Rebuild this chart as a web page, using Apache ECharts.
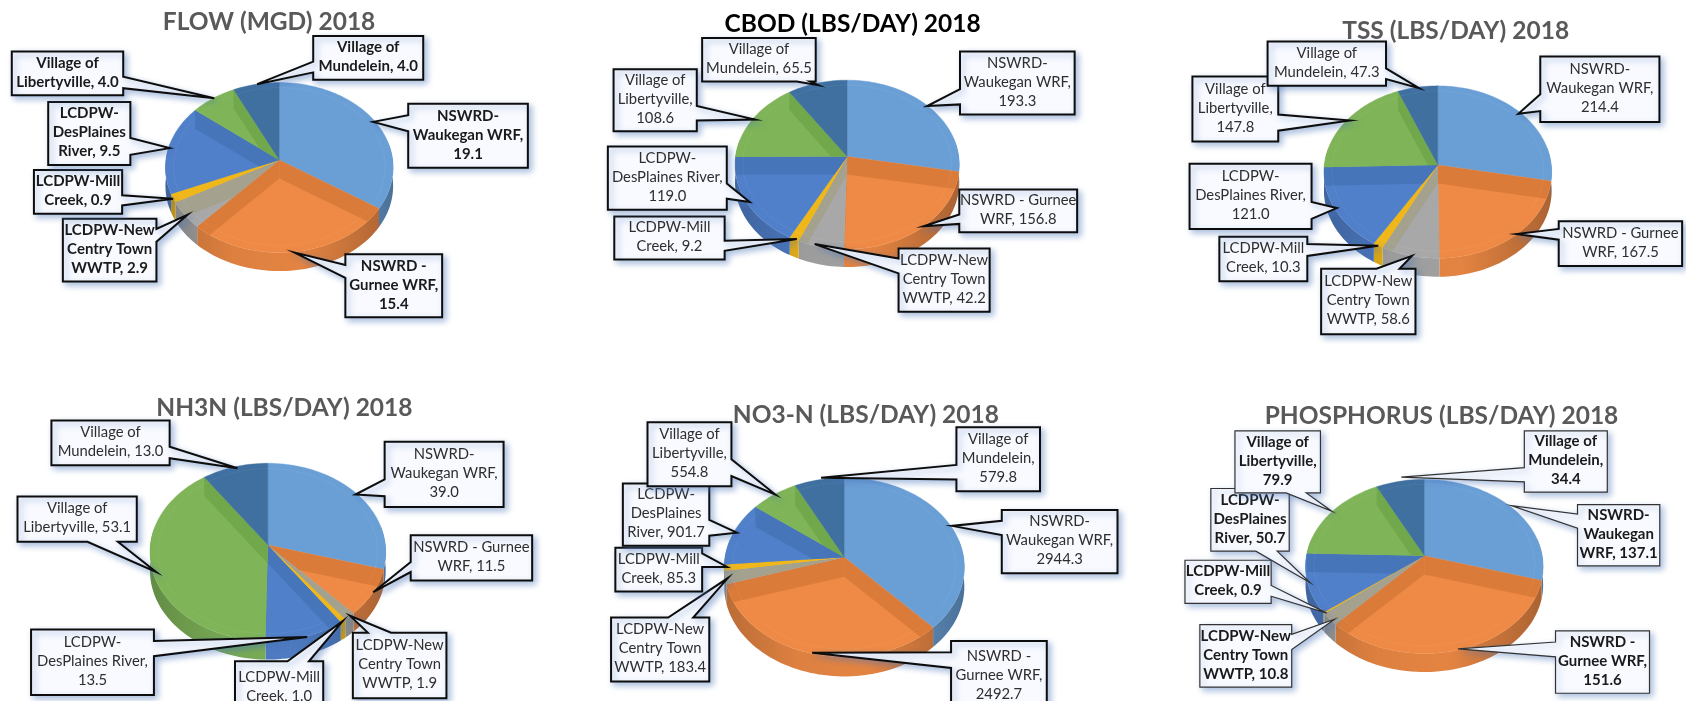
<!DOCTYPE html>
<html><head><meta charset="utf-8">
<style>html,body{margin:0;padding:0;background:#fff}#c{width:1686px;height:701px}</style>
<script src="https://cdn.jsdelivr.net/npm/echarts@6/dist/echarts.min.js"></script>
</head><body><div id="c"></div>
<script>
const sliceNames=['NSWRD-Waukegan WRF','NSWRD - Gurnee WRF','LCDPW-New Centry Town WWTP','LCDPW-Mill Creek','LCDPW-DesPlaines River','Village of Libertyville','Village of Mundelein'];
const flowValues=[19.1,15.4,2.9,0.9,9.5,4.0,4.0];
const cbodValues=[193.3,156.8,42.2,9.2,119.0,108.6,65.5];
const tssValues=[214.4,167.5,58.6,10.3,121.0,147.8,47.3];
const nh3nValues=[39.0,11.5,1.9,1.0,13.5,53.1,13.0];
const no3nValues=[2944.3,2492.7,183.4,85.3,901.7,554.8,579.8];
const phosValues=[137.1,151.6,10.8,0.9,50.7,79.9,34.4];
const sliceColors=['#6a9fd6','#ee8a45','#a8a8a8','#efb71a','#5180ca','#7fb458','#3f709f'];
const wallColors=['#6193c8','#db7b39','#a5a18f','#efb71a','#4675ba','#70a84b','#3f709f'];

// Layout in panel units (sc / SY units per page pixel from the panel origin ox,oy)
const SY=2.97;
const panels=[
 {title:'FLOW (MGD) 2018',vals:flowValues,color:'#595959',bold:true,lw:2,tx:752,ty:62,ox:0,oy:0,sc:2.8,ax:782,ay:475,R:317.5,top:245,sil:805,d:55,
  wraps:['NSWRD-\nWaukegan WRF,\n','NSWRD -\nGurnee WRF,\n','LCDPW-New\nCentry Town\nWWTP, ','LCDPW-Mill\nCreek, ','LCDPW-\nDesPlaines\nRiver, ','Village of\nLibertyville, ','Village of\nMundelein, '],
  boxes:[[1143,308,1478,498,'L',342,390,1045,362],[967,755,1238,942,'L',787,825,825,750],[176,650,438,836,'R',680,718,525,638],[95,505,342,635,'R',580,610,485,590],[135,303,365,490,'R',410,460,475,440],[33,153,345,283,'R',228,262,600,292],[877,107,1185,237,'L',183,215,720,250]]},
 {title:'CBOD (LBS/DAY) 2018',vals:cbodValues,color:'#000000',bold:false,lw:2,tx:790,ty:68,ox:570,oy:0,sc:2.8,ax:776,ay:465,R:312.5,top:238,sil:793,d:53,
  wraps:['NSWRD-\nWaukegan WRF,\n','NSWRD - Gurnee\nWRF, ','LCDPW-New\nCentry Town\nWWTP, ','LCDPW-Mill\nCreek, ','LCDPW-\nDesPlaines River,\n','Village of\nLibertyville,\n','Village of\nMundelein, '],
  boxes:[[1092,153,1413,340,'L',265,310,1000,315],[1090,563,1420,690,'L',637,665,990,672],[920,738,1175,926,'L',768,812,685,725],[124,643,433,771,'R',715,745,635,710],[106,435,439,623,'R',545,590,503,600],[122,206,355,390,'R',315,358,518,355],[370,113,688,242,'B',635,672,695,253]]},
 {title:'TSS (LBS/DAY) 2018',vals:tssValues,color:'#595959',bold:false,lw:2,tx:917,ty:90,ox:1130,oy:0,sc:2.82,ax:868,ay:490,R:320,top:255,sil:822,d:55,
  wraps:['NSWRD-\nWaukegan WRF,\n','NSWRD - Gurnee\nWRF, ','LCDPW-New\nCentry Town\nWWTP, ','LCDPW-Mill\nCreek, ','LCDPW-\nDesPlaines River,\n','Village of\nLibertyville,\n','Village of\nMundelein, '],
  boxes:[[1157,168,1493,362,'L',280,330,1095,338],[1209,657,1557,790,'L',680,712,1090,695],[539,798,805,993,'T',695,760,795,760],[252,703,500,835,'R',725,760,700,730],[168,486,512,680,'R',600,650,583,618],[176,227,418,420,'R',340,388,620,358],[388,123,722,255,'R',203,235,815,262]]},
 {title:'NH3N (LBS/DAY) 2018',vals:nh3nValues,color:'#595959',bold:false,lw:2,tx:795,ty:110,ox:0,oy:370,sc:2.8,ax:750,ay:520,R:329,top:277,sil:860,d:55,
  wraps:['NSWRD-\nWaukegan WRF,\n','NSWRD - Gurnee\nWRF, ','LCDPW-New\nCentry Town\nWWTP, ','LCDPW-Mill\nCreek, ','LCDPW-\nDesPlaines River,\n','Village of\nLibertyville, ','Village of\nMundelein, '],
  boxes:[[1077,213,1410,407,'L',325,375,995,370],[1150,491,1490,625,'L',570,600,1045,660],[988,780,1250,975,'T',1030,1095,980,730],[658,865,905,1020,'T',805,865,960,745],[87,771,431,965,'R',805,850,860,793],[49,376,383,510,'B',245,330,437,600],[144,150,475,283,'R',228,262,665,292]]},
 {title:'NO3-N (LBS/DAY) 2018',vals:no3nValues,color:'#595959',bold:false,lw:2,tx:827,ty:132,ox:570,oy:370,sc:2.8,ax:768,ay:556,R:334,top:320,sil:910,d:58,
  wraps:['NSWRD-\nWaukegan WRF,\n','NSWRD -\nGurnee WRF,\n','LCDPW-New\nCentry Town\nWWTP, ','LCDPW-Mill\nCreek, ','LCDPW-\nDesPlaines\nRiver, ','Village of\nLibertyville,\n','Village of\nMundelein,\n'],
  boxes:[[1209,416,1533,604,'L',448,490,1070,463],[1067,805,1335,1015,'L',838,885,678,840],[115,735,390,925,'T',275,345,442,618],[127,528,370,658,'R',545,585,440,585],[148,337,390,522,'R',445,492,467,483],[217,155,452,345,'R',265,315,575,370],[1082,170,1316,360,'L',282,325,703,320]]},
 {title:'PHOSPHORUS (LBS/DAY) 2018',vals:phosValues,color:'#595959',bold:true,lw:1.2,tx:877,ty:135,ox:1130,oy:370,sc:2.82,ax:830,ay:552,R:332.5,top:325,sil:897,d:55,
  wraps:['NSWRD-\nWaukegan\nWRF, ','NSWRD -\nGurnee WRF,\n','LCDPW-New\nCentry Town\nWWTP, ','LCDPW-Mill\nCreek, ','LCDPW-\nDesPlaines\nRiver, ','Village of\nLibertyville,\n','Village of\nMundelein,\n'],
  boxes:[[1262,400,1494,582,'L',428,470,1075,403],[1200,775,1465,960,'L',808,852,925,828],[197,756,456,942,'R',785,830,577,740],[155,565,398,693,'R',640,672,555,722],[228,352,449,538,'B',355,415,508,632],[296,181,537,365,'B',440,497,570,420],[1112,181,1346,363,'L',290,332,765,318]]}
];
const labelFont='"Lato","Open Sans",sans-serif';
const RAD=Math.PI/180;
function shade(h,f){const n=parseInt(h.slice(1),16);const c=s=>Math.max(0,Math.min(255,Math.round(((n>>s)&255)*f)));return 'rgb('+c(16)+','+c(8)+','+c(0)+')';}

function pieSeries(p){
  const X=v=>p.ox+v/p.sc, Y=v=>p.oy+v/SY;
  const ax=X(p.ax), ay=Y(p.ay), R=p.R/p.sc, d=p.d/SY;
  const back=(p.ay-p.top)/SY, fr=(p.sil-p.d-p.ay)/SY;
  const k=(fr-back)/(fr+back), S=back*(1+k);
  const rim=(t,dy,r)=>{r=r===undefined?1:r;const s=Math.sin(t*RAD),c=Math.cos(t*RAD),w=1+k*r*c;
    return [ax+R*r*s/w, ay-S*r*c/w+(dy||0)];};
  const total=p.vals.reduce((a,b)=>a+b,0);
  let acc=0; const starts=p.vals.map(v=>{const a=acc;acc+=v;return a/total*360;});
  return {type:'custom',coordinateSystem:'none',z:10,silent:true,name:p.title,
    data:p.vals.map((v,i)=>({name:sliceNames[i],value:[v]})),
    renderItem(params,api){
      const i=params.dataIndex, a0=starts[i], a1=a0+api.value(0)/total*360;
      const col=sliceColors[i], kids=[];
      const pts=[[ax,ay]], n=Math.max(4,Math.ceil((a1-a0)/2));
      for(let j=0;j<=n;j++)pts.push(rim(a0+(a1-a0)*j/n));
      const s0=Math.max(a0,78), s1=Math.min(a1,282);
      if(s1>s0){
        const up=[],dn=[],m=Math.max(3,Math.ceil((s1-s0)/2));
        for(let j=0;j<=m;j++){const t=s0+(s1-s0)*j/m;up.push(rim(t));dn.unshift(rim(t,d));}
        kids.push({type:'polygon',z2:1,shape:{points:up.concat(dn)},style:{
          fill:{type:'linear',global:true,x:ax-R,y:0,x2:ax+R,y2:0,colorStops:[
            {offset:0,color:shade(col,.78)},{offset:.3,color:shade(col,.93)},{offset:.6,color:shade(col,.96)},{offset:1,color:shade(col,.72)}]},
          stroke:null}});
      }
      kids.push({type:'polygon',z2:2,shape:{points:pts},style:{fill:col,stroke:col,lineWidth:.4}});
      [a0,a1].forEach(t=>{
        const w=[[ax,ay],rim(t),rim(t,d),[ax,ay+d]];
        kids.push({type:'polygon',z2:3,shape:{points:w},style:{fill:wallColors[i]},
          clipPath:{type:'polygon',shape:{points:pts}}});
      });
      const ring=[];for(let j=0;j<=n;j++)ring.push(rim(a0+(a1-a0)*j/n,0,.93));
      kids.push({type:'polyline',z2:4,shape:{points:ring},style:{stroke:'rgba(255,255,255,0.05)',lineWidth:1,fill:null}});
      return {type:'group',children:kids};
    }};
}

function labelSeries(p){
  return {type:'custom',coordinateSystem:'none',z:20,silent:true,name:p.title+' labels',
    data:p.vals.map((v,i)=>({name:sliceNames[i],value:[v]})),
    renderItem(params,api){
      const i=params.dataIndex, b=p.boxes[i];
      const X=v=>p.ox+v/p.sc, Y=v=>p.oy+v/SY;
      const x0=X(b[0]),y0=Y(b[1]),x1=X(b[2]),y1=Y(b[3]),side=b[4],tip=[X(b[7]),Y(b[8])];
      const P=[[x0,y0]];
      if(side==='T')P.push([X(b[5]),y0],tip,[X(b[6]),y0]);
      P.push([x1,y0]);
      if(side==='R')P.push([x1,Y(b[5])],tip,[x1,Y(b[6])]);
      P.push([x1,y1]);
      if(side==='B')P.push([X(b[6]),y1],tip,[X(b[5]),y1]);
      P.push([x0,y1]);
      if(side==='L')P.push([x0,Y(b[6])],tip,[x0,Y(b[5])]);
      const txt=p.wraps[i]+api.value(0).toFixed(1);
      return {type:'group',children:[
        {type:'polygon',z2:i*2,shape:{points:P},style:{fill:'#f8faff',stroke:p.lw<2?'#333333':'#0d0d0d',lineWidth:p.lw,lineJoin:'miter',
          shadowColor:'rgba(70,115,185,0.45)',shadowBlur:6,shadowOffsetX:3,shadowOffsetY:3}},
        {type:'text',z2:i*2+1,style:{text:txt,x:(x0+x1)/2,y:(y0+y1)/2-1,align:'center',verticalAlign:'middle',
          font:p.bold?('700 15px '+labelFont):('400 14.8px '+labelFont),lineHeight:19,fill:p.bold?'#1a1a1a':'#2e2e2e'}}
      ]};
    }};
}

const chart=echarts.init(document.getElementById('c'),null,{width:1686,height:701,renderer:'canvas'});
chart.setOption({
  animation:false,backgroundColor:'#fff',
  title:panels.map(p=>({text:p.title,left:p.ox+p.tx/p.sc-4.5,top:p.oy+p.ty/SY-4,textAlign:'center',textVerticalAlign:'middle',z:6,
    textStyle:{fontFamily:labelFont,fontWeight:'bold',fontSize:24.5,color:p.color}})),
  series:panels.map(pieSeries).concat(panels.map(labelSeries))
});
</script></body></html>
